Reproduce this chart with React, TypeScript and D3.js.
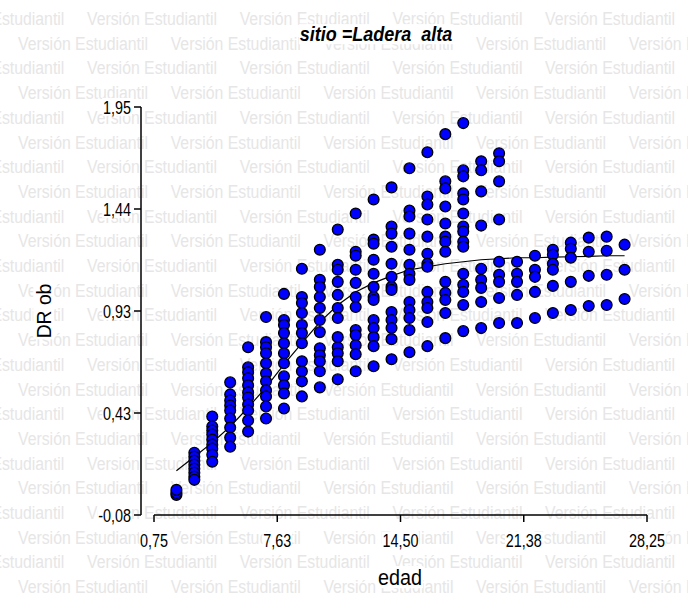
import { useEffect, useRef } from 'react';
import * as d3 from 'd3';

const ages = d3.range(2, 28);

const dr02 = [0.02, 0.03, 0.045];
const dr03 = [0.23, 0.21, 0.19, 0.17, 0.15, 0.13, 0.11, 0.095];
const dr04 = [0.41, 0.36, 0.34, 0.32, 0.295, 0.27, 0.25, 0.22, 0.185];
const dr05 = [0.58, 0.52, 0.49, 0.465, 0.44, 0.4, 0.355, 0.305, 0.26];
const dr06 = [0.755, 0.655, 0.63, 0.6, 0.565, 0.53, 0.505, 0.47, 0.44, 0.39, 0.335];
const dr07 = [0.905, 0.78, 0.755, 0.725, 0.675, 0.625, 0.585, 0.54, 0.51, 0.46, 0.4];
const dr08 = [1.02, 0.89, 0.865, 0.825, 0.775, 0.725, 0.675, 0.61, 0.565, 0.525, 0.45];
const dr09 = [1.145, 1.005, 0.975, 0.925, 0.865, 0.825, 0.775, 0.685, 0.635, 0.585, 0.51];
const dr10 = [1.24, 1.09, 1.055, 1.005, 0.95, 0.89, 0.83, 0.75, 0.715, 0.685, 0.635, 0.555];
const dr11 = [1.34, 1.165, 1.14, 1.08, 1.015, 0.95, 0.9, 0.805, 0.755, 0.725, 0.685, 0.595];
const dr12 = [1.42, 1.23, 1.21, 1.14, 1.075, 1.005, 0.955, 0.84, 0.815, 0.765, 0.72, 0.635];
const dr13 = [1.49, 1.29, 1.27, 1.19, 1.12, 1.055, 1.005, 0.99, 0.89, 0.85, 0.805, 0.76, 0.66];
const dr14 = [1.55, 1.355, 1.32, 1.255, 1.17, 1.105, 1.055, 1.04, 0.93, 0.89, 0.85, 0.795, 0.695];
const dr15 = [1.645, 1.435, 1.405, 1.32, 1.24, 1.165, 1.12, 1.09, 0.98, 0.94, 0.9, 0.84, 0.73];
const dr16 = [1.725, 1.505, 1.465, 1.39, 1.305, 1.22, 1.17, 1.155, 1.03, 0.98, 0.95, 0.88, 0.76];
const dr17 = [1.815, 1.58, 1.545, 1.455, 1.37, 1.305, 1.28, 1.23, 1.08, 1.025, 0.99, 0.925, 0.8];
const dr18 = [1.87, 1.635, 1.605, 1.52, 1.49, 1.42, 1.355, 1.33, 1.28, 1.255, 1.12, 1.065, 1.03, 0.965, 0.835];
const dr19 = [1.68, 1.635, 1.53, 1.36, 1.145, 1.09, 1.05, 0.98, 0.85];
const dr20 = [1.72, 1.68, 1.58, 1.39, 1.18, 1.115, 1.08, 1.0, 0.875];
const dr21 = [1.18, 1.12, 1.08, 1.015, 0.875];
const dr22 = [1.21, 1.14, 1.105, 1.03, 0.9];
const dr23 = [1.24, 1.215, 1.17, 1.14, 1.06, 0.925];
const dr24 = [1.275, 1.245, 1.2, 1.08, 0.94];
const dr25 = [1.3, 1.23, 1.11, 0.96];
const dr26 = [1.305, 1.235, 1.115, 0.965];
const dr27 = [1.265, 1.14, 0.995];

const drColumns = [dr02, dr03, dr04, dr05, dr06, dr07, dr08, dr09, dr10, dr11, dr12, dr13, dr14,
  dr15, dr16, dr17, dr18, dr19, dr20, dr21, dr22, dr23, dr24, dr25, dr26, dr27];

// fitted curve, one value per age
const fitted = [0.14, 0.21, 0.28, 0.36, 0.455, 0.555, 0.67, 0.775, 0.88, 0.965, 1.03, 1.075, 1.11,
  1.14, 1.155, 1.17, 1.18, 1.19, 1.195, 1.2, 1.2, 1.203, 1.205, 1.207, 1.21, 1.21];

const xTickLabels = ['0,75', '7,63', '14,50', '21,38', '28,25'];
const yTickLabels = ['-0,08', '0,43', '0,93', '1,44', '1,95'];

const W = 688;
const H = 609;
const FONT = "'Liberation Sans', Arial, sans-serif";

export default function App() {
  const ref = useRef<SVGSVGElement>(null);

  useEffect(() => {
    if (!ref.current) return;
    const svg = d3.select(ref.current);
    svg.selectAll('*').remove();

    const x = d3.scaleLinear().domain([0.75, 28.25]).range([154, 647]);
    const y = d3.scaleLinear().domain([-0.08, 1.95]).range([515, 107]);
    const xTicks = d3.range(5).map(i => 0.75 + i * (27.5 / 4));
    const yTicks = d3.range(5).map(i => -0.08 + i * (2.03 / 4));

    svg.append('rect').attr('width', W).attr('height', H).attr('fill', '#fff');

    // watermark rows
    const wm = svg.append('g')
      .style('font-family', FONT)
      .style('font-size', '18px')
      .attr('fill', '#e6e6e6');
    for (let r = 0; r < 24; r++) {
      const yy = 25 + r * 24.7;
      const start = r % 2 === 0 ? -65.7 : 18;
      for (let k = 0; k < 6; k++) {
        wm.append('text')
          .attr('x', start + k * 152.7)
          .attr('y', yy)
          .attr('textLength', 130)
          .attr('lengthAdjust', 'spacingAndGlyphs')
          .text('Versión Estudiantil');
      }
    }

    // condensed text with a white box behind it, so the watermark is hidden there
    const label = (parent: any, tx: number, ty: number, txt: string, anchor: string,
      size: number, sx: number, rot = 0, bold = false) => {
      const g = parent.append('g')
        .attr('transform', `translate(${tx},${ty}) rotate(${rot}) scale(${sx},1)`);
      const t = g.append('text')
        .attr('text-anchor', anchor)
        .style('font-family', FONT)
        .style('font-size', size + 'px')
        .style('white-space', 'pre')
        .style('font-weight', bold ? 'bold' : 'normal')
        .style('font-style', bold ? 'italic' : 'normal')
        .attr('fill', '#000')
        .text(txt);
      const bb = t.node().getBBox();
      g.insert('rect', () => t.node())
        .attr('x', bb.x - 1).attr('y', bb.y + 1)
        .attr('width', bb.width + 2).attr('height', bb.height - 2)
        .attr('fill', '#fff');
      return g;
    };

    // title
    label(svg, 376, 41, 'sitio =Ladera  alta', 'middle', 20, 0.9, 0, true);

    // fitted curve
    const line = d3.line<number>()
      .x((_, i) => x(ages[i]))
      .y(d => y(d));
    svg.append('path')
      .datum(fitted)
      .attr('d', line)
      .attr('fill', 'none')
      .attr('stroke', '#000')
      .attr('stroke-width', 1.2);

    // observations
    const pts = ages.flatMap((a, i) => drColumns[i].map(v => ({ edad: a, dr: v })));
    svg.append('g')
      .selectAll('circle')
      .data(pts)
      .enter()
      .append('circle')
      .attr('cx', d => x(d.edad))
      .attr('cy', d => y(d.dr))
      .attr('r', 5.4)
      .attr('fill', '#0000ff')
      .attr('stroke', '#000')
      .attr('stroke-width', 1.3);

    // y axis (offset left of the plot)
    const ax = svg.append('g').attr('stroke', '#000').attr('stroke-width', 1.5);
    ax.append('line').attr('x1', 141).attr('x2', 141).attr('y1', y(1.95)).attr('y2', y(-0.08));
    yTicks.forEach(v => {
      ax.append('line').attr('x1', 134).attr('x2', 141).attr('y1', y(v)).attr('y2', y(v));
    });
    // x axis
    ax.append('line').attr('x1', x(0.75)).attr('x2', x(28.25)).attr('y1', 515).attr('y2', 515);
    xTicks.forEach(v => {
      ax.append('line').attr('x1', x(v)).attr('x2', x(v)).attr('y1', 515).attr('y2', 522);
    });

    const lg = svg.append('g');
    yTicks.forEach((v, i) => label(lg, 131, y(v) + 6.5, yTickLabels[i], 'end', 18, 0.8));
    xTicks.forEach((v, i) => label(lg, x(v), 547, xTickLabels[i], 'middle', 18, 0.8));
    label(lg, 400, 585, 'edad', 'middle', 22, 0.9);
    label(lg, 51, 311, 'DR ob', 'middle', 21, 0.92, -90);
  }, []);

  return (
    <svg
      ref={ref}
      width={W}
      height={H}
      style={{ position: 'absolute', left: 0, top: 0, background: '#fff' }}
    />
  );
}
